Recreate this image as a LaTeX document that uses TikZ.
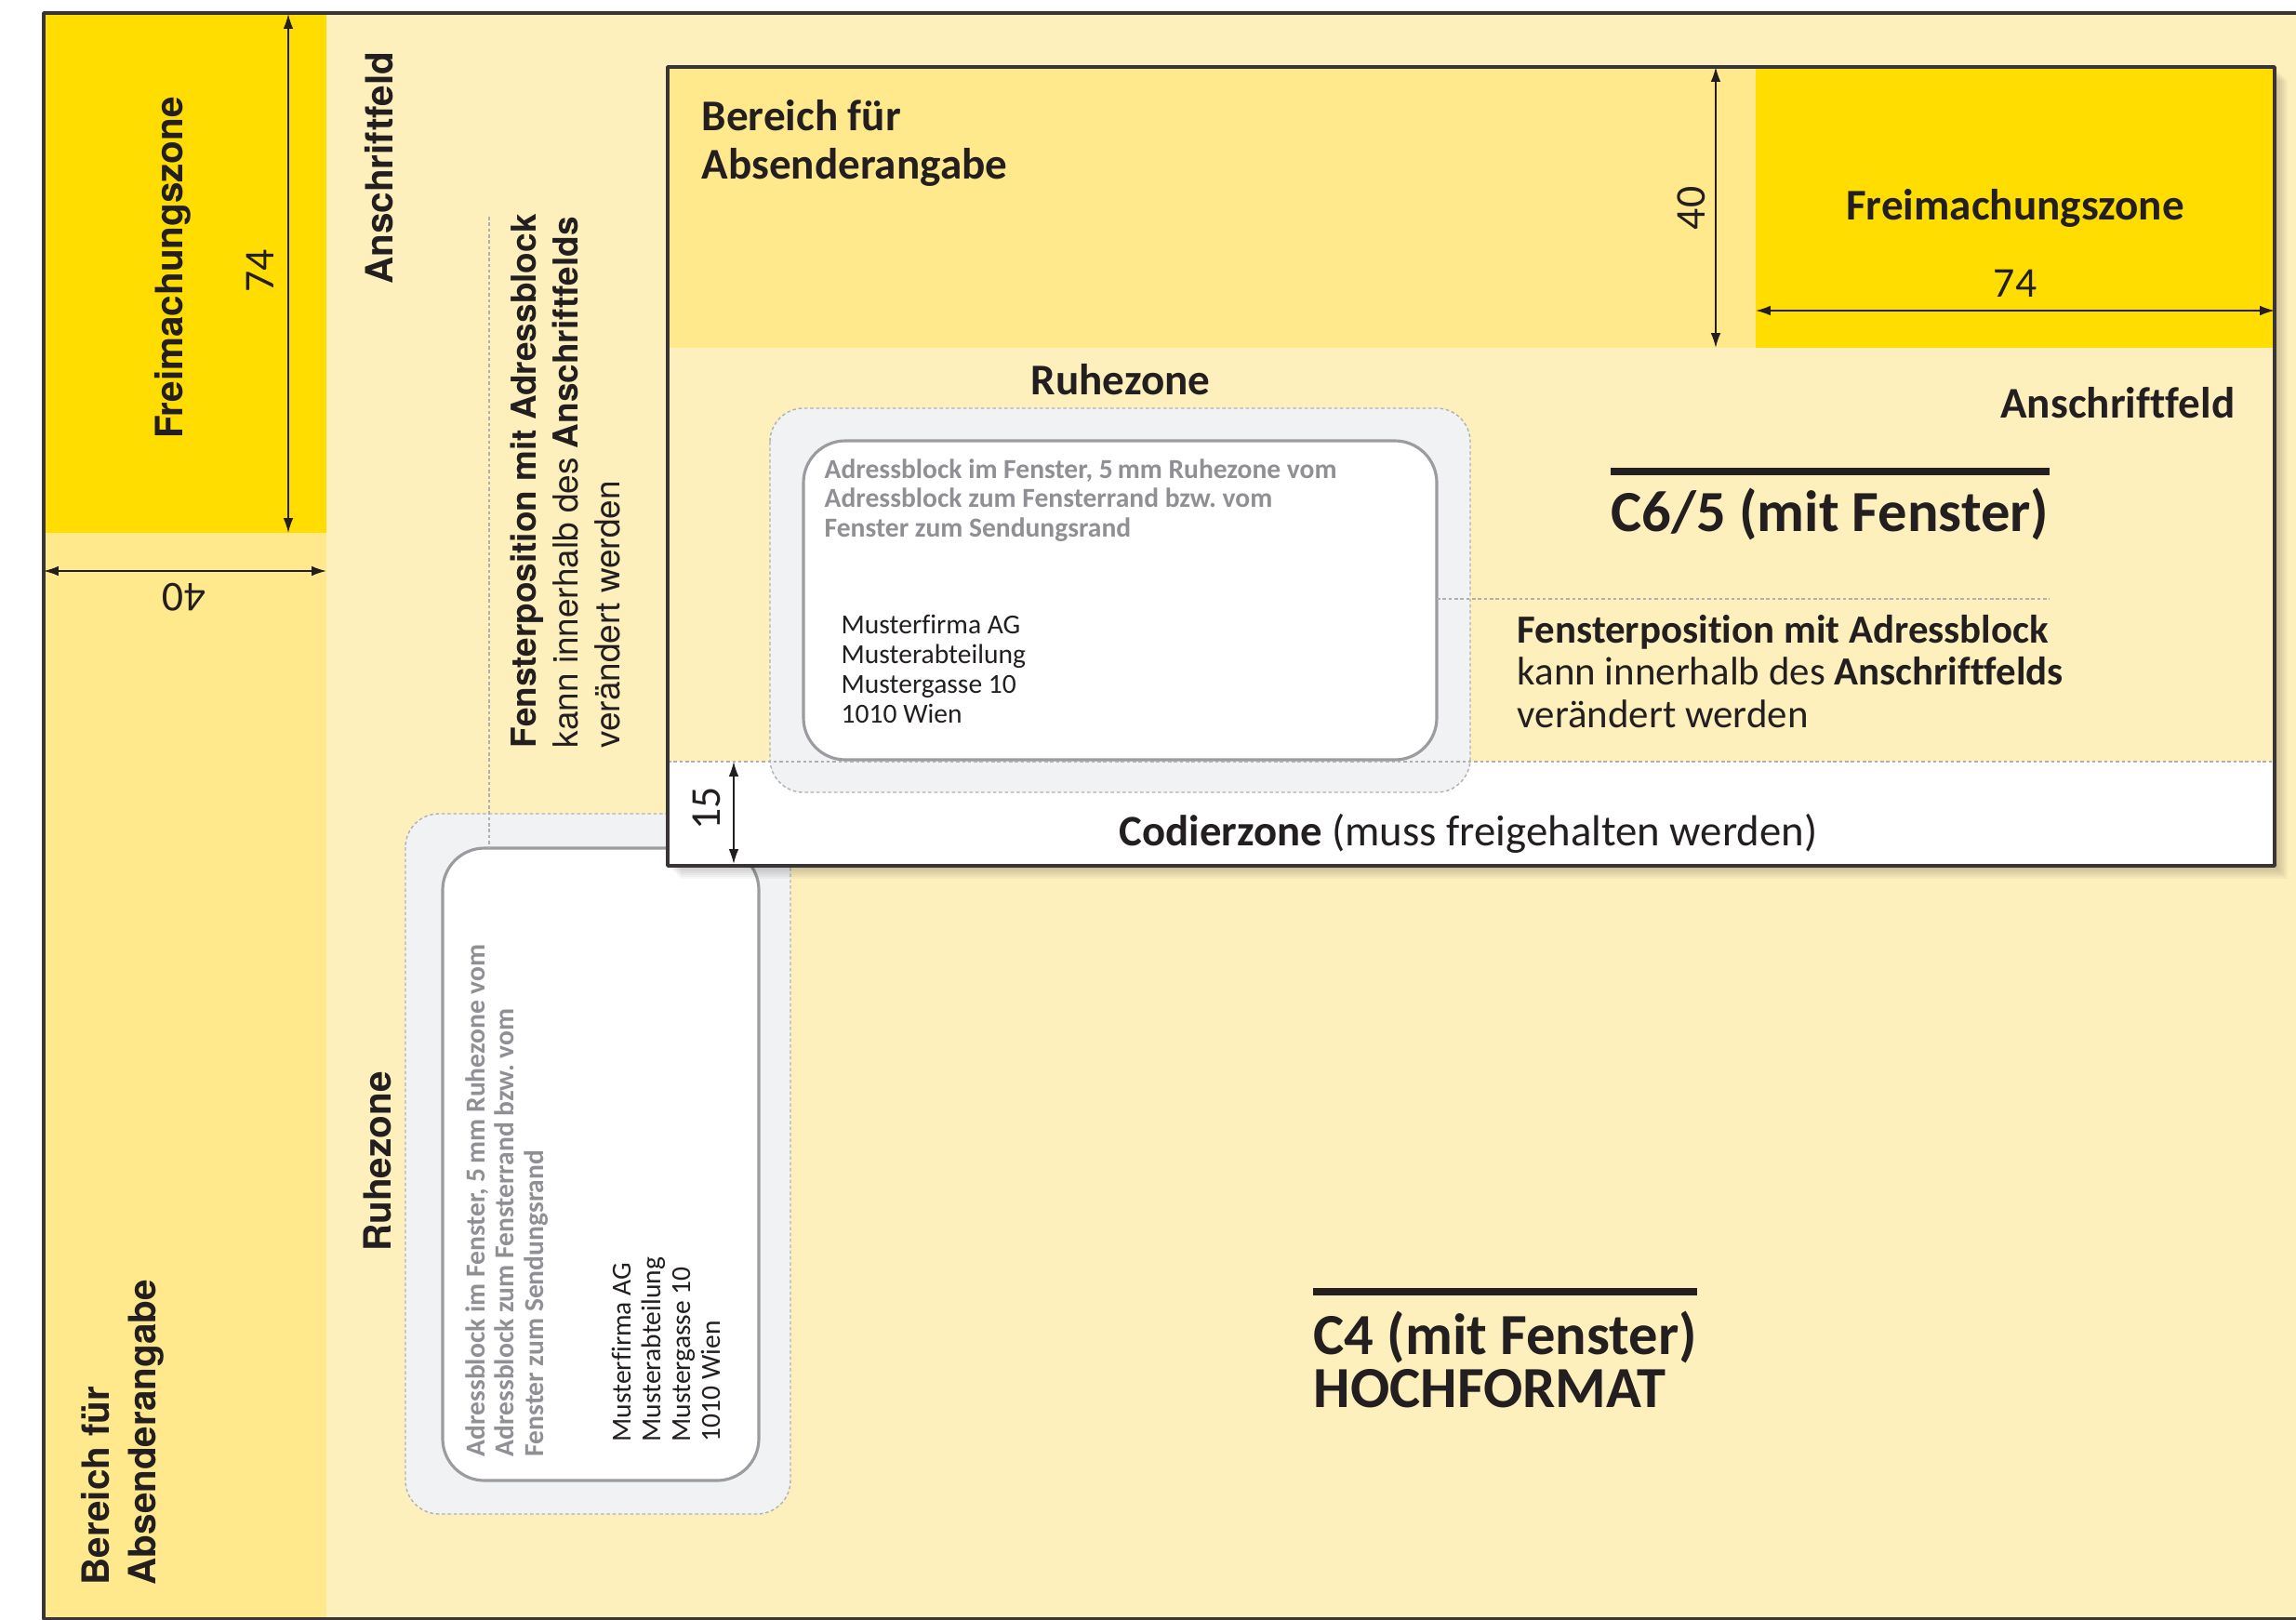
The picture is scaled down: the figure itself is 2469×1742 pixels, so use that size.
\documentclass[tikz,border=0pt]{standalone}
\usepackage{fontspec}
\setmainfont{Carlito}[Ligatures=NoCommon]
\newfontfamily\helv{TeX Gyre Heros}
\usetikzlibrary{arrows.meta,positioning}
\frenchspacing

\definecolor{postgelb}{HTML}{FFDD00}
\definecolor{gelbmittel}{HTML}{FFE98C}
\definecolor{gelbhell}{HTML}{FEF0BD}
\definecolor{ruhegrau}{HTML}{F1F2F4}
\definecolor{randgrau}{HTML}{9C9CA0}
\definecolor{textgrau}{HTML}{8F8F94}
\definecolor{tinte}{HTML}{231F20}

\tikzset{
  huelle/.style={draw=tinte!90,line width=1pt},
  massline/.style={draw=tinte,line width=0.45pt,{Latex[length=4.5pt,width=3pt]}-{Latex[length=4.5pt,width=3pt]}},
  trenn/.style={draw=randgrau!80,line width=0.4pt,dash pattern=on 1pt off 0.8pt},
  ruhezone/.style={fill=ruhegrau,draw=randgrau!80,line width=0.4pt,dash pattern=on 1pt off 0.8pt,rounded corners=0.36cm},
  fenster/.style={fill=white,draw=randgrau,line width=0.9pt,rounded corners=0.45cm},
  titel/.style={font=\fontsize{13.4}{14.8}\selectfont\bfseries,text=tinte,align=left,inner sep=0pt},
  hvtitel/.style={font=\helv\fontsize{11.5}{14.2}\selectfont\bfseries,text=tinte,align=left,inner sep=0pt,rotate=90},
  hvtext/.style={font=\helv\fontsize{10.5}{12.9}\selectfont,text=tinte,align=left,inner sep=0pt,rotate=90},
  postext/.style={font=\fontsize{12.2}{12.9}\selectfont,text=tinte,align=left,inner sep=0pt},
  hinweis/.style={font=\fontsize{8.4}{9}\selectfont\bfseries,text=textgrau,align=left,inner sep=0pt},
  adresse/.style={font=\fontsize{8.4}{9.1}\selectfont,text=tinte,align=left,inner sep=0pt},
  mass/.style={font=\fontsize{13}{15}\selectfont,text=tinte,inner sep=0pt},
  format/.style={font=\fontsize{17.8}{16.2}\selectfont\bfseries,text=tinte,align=left,inner sep=0pt},
  balken/.style={draw=tinte,line width=2.2pt},
}

\begin{document}
\begin{tikzpicture}[x=0.01cm,y=-0.01cm,line join=round]
\useasboundingbox (0,0) rectangle (2469,1742);
\clip (0,0) rectangle (2469,1742);

% C4 Hochformat
\fill[gelbhell] (47,14) rectangle (2500,1741);
\fill[gelbmittel] (47,14) rectangle (351,1741);
\fill[postgelb] (47,14) rectangle (351,573);
\draw[huelle] (47,14) rectangle (2500,1741);

\coordinate (fzoben) at (310,15);
\coordinate (fzunten) at (310,573);
\draw[massline] (fzoben) -- (fzunten);
\coordinate (abslinks) at (47,614);
\coordinate (absrechts) at (351,614);
\draw[massline] (abslinks) -- (absrechts);

\node[hvtitel] (fzlinks) at (186,288) {Freimachungszone};
\node[mass,rotate=90] (m74links) at (280,291) {74};
\node[mass,rotate=180] (m40links) at (198,642) {40};
\node[hvtitel,anchor=east] (anschriftlinks) at (408,55) {Anschriftfeld};
\node[hvtitel,anchor=west] (absenderlinks) at (132,1705) {Bereich für\\Absenderangabe};

\draw[ruhezone] (436,875) rectangle (850,1628);
\draw[fenster] (476,912) rectangle (816,1592);
\coordinate (fposoben) at (526,233);
\coordinate (fposunten) at (526,912);
\draw[trenn] (fposoben) -- (fposunten);
\node[hvtitel] (ruhelinks) at (406,1249) {Ruhezone};
\node[hvtext,anchor=west] (fposlinks) at (608,805)
  {\textbf{Fensterposition mit Adressblock}\\kann innerhalb des \textbf{Anschriftfelds}\\verändert werden};
\node[hinweis,rotate=90,anchor=west] (hinweislinks) at (545,1567)
  {Adressblock im Fenster, 5\,mm Ruhezone vom\\Adressblock zum Fensterrand bzw.\ vom\\Fenster zum Sendungsrand};
\node[adresse,rotate=90,anchor=west] (adresselinks) at (716,1551)
  {Musterfirma AG\\Musterabteilung\\Mustergasse 10\\1010 Wien};

\draw[balken] (1412,1389) -- (1825,1389);
\node[format,anchor=west] (c4titel) at (1412,1462) {C4 (mit Fenster)\\HOCHFORMAT};

% C6/5 quer, mit Schatten
\foreach \s in {2,4,...,14}
  \fill[black,opacity=0.03] (718+\s,72+\s) rectangle (2446+\s,931+\s);
\fill[gelbhell] (718,72) rectangle (2446,931);
\fill[gelbmittel] (718,72) rectangle (1888,374);
\fill[postgelb] (1888,72) rectangle (2446,374);
\fill[white] (718,819) rectangle (2446,931);

\draw[ruhezone] (828,439) rectangle (1581,852);
\draw[fenster] (864,474) rectangle (1545,817);
\coordinate (codlinks) at (718,819);
\coordinate (codrechts) at (2446,819);
\draw[trenn] (codlinks) -- (codrechts);
\coordinate (fpfenster) at (1545,644);
\coordinate (fptext) at (2204,644);
\draw[trenn] (fpfenster) -- (fptext);

\coordinate (absoben) at (1845,72);
\coordinate (absunten) at (1845,374);
\draw[massline] (absoben) -- (absunten);
\coordinate (fzrlinks) at (1888,334);
\coordinate (fzrrechts) at (2446,334);
\draw[massline] (fzrlinks) -- (fzrrechts);
\coordinate (codoben) at (789,819);
\coordinate (codunten) at (789,929);
\draw[massline] (codoben) -- (codunten);

\node[titel,anchor=west] (absenderquer) at (754,154) {Bereich für\\Absenderangabe};
\node[titel] (fzquer) at (2167,224) {Freimachungszone};
\node[mass] (m74quer) at (2167,305) {74};
\node[mass,rotate=90] (m40quer) at (1819,224) {40};
\node[mass,rotate=90] (m15quer) at (760,869) {15};
\node[titel] (ruhequer) at (1205,408) {Ruhezone};
\node[titel,anchor=east] (anschriftquer) at (2404,433) {Anschriftfeld};
\node[hinweis,anchor=west] (hinweisquer) at (886,538)
  {Adressblock im Fenster, 5\,mm Ruhezone vom\\Adressblock zum Fensterrand bzw.\ vom\\Fenster zum Sendungsrand};
\node[adresse,anchor=west] (adressequer) at (904,719)
  {Musterfirma AG\\Musterabteilung\\Mustergasse 10\\1010 Wien};
\draw[balken] (1732,507) -- (2204,507);
\node[format,anchor=east] (c65titel) at (2204,553) {C6/5 (mit Fenster)};
\node[postext,anchor=west] (fposquer) at (1631,722)
  {\textbf{Fensterposition mit Adressblock}\\kann innerhalb des \textbf{Anschriftfelds}\\verändert werden};
\node[font=\fontsize{13.3}{15}\selectfont,text=tinte,inner sep=0pt] (codierzone) at (1579,896)
  {\textbf{Codierzone} (muss freigehalten werden)};

\draw[huelle] (718,72) rectangle (2446,931);
\end{tikzpicture}
\end{document}
